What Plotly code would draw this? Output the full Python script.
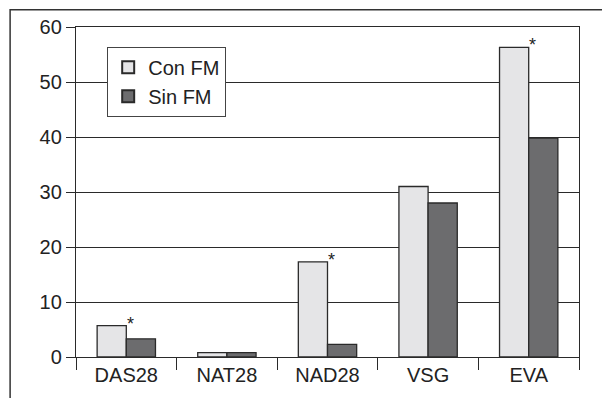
import plotly.graph_objects as go

categories = ["DAS28", "NAT28", "NAD28", "VSG", "EVA"]
con_fm = [5.7, 0.8, 17.3, 31.0, 56.3]
sin_fm = [3.3, 0.8, 2.3, 28.0, 39.8]
significant = [True, False, True, False, True]
y_ticks = [0, 10, 20, 30, 40, 50, 60]

LINE = "#2a2a2a"
FONT = dict(family="Liberation Sans, Arial, sans-serif", size=20, color="#222222")

fig = go.Figure()
fig.add_trace(go.Bar(name="Con FM", x=categories, y=con_fm,
                     marker=dict(color="#e5e5e7", line=dict(color=LINE, width=1.3))))
fig.add_trace(go.Bar(name="Sin FM", x=categories, y=sin_fm,
                     marker=dict(color="#6c6c6e", line=dict(color=LINE, width=1.3))))

for cat, v, s in zip(categories, con_fm, significant):
    if s:
        fig.add_annotation(x=cat, y=v, text="*", showarrow=False, xshift=4, yshift=-10,
                           yanchor="bottom", font=dict(family=FONT["family"], size=18, color="#222222"))

# outer frame (top and left edges visible; right/bottom fall outside the page)
fig.add_shape(type="rect", xref="paper", yref="paper", x0=-0.131, x1=1.2, y0=-0.3, y1=1.052,
              line=dict(color="#333333", width=1.5), fillcolor="rgba(0,0,0,0)", layer="above")

fig.update_layout(
    width=602, height=398,
    margin=dict(l=76, r=23, t=27, b=41),
    paper_bgcolor="white", plot_bgcolor="white",
    font=FONT,
    barmode="group", bargap=0.42, bargroupgap=0,
    showlegend=True,
    legend=dict(x=0.062, y=0.94, xanchor="left", yanchor="top",
                bgcolor="white", bordercolor="#444444", borderwidth=1,
                font=dict(size=20), tracegroupgap=0, itemsizing="constant"),
    xaxis=dict(showline=True, linecolor=LINE, linewidth=1.3, mirror=True,
               ticks="outside", tickson="boundaries", ticklen=12, tickcolor=LINE, tickwidth=1.3,
               showgrid=False),
    yaxis=dict(range=[0, 60], tickvals=y_ticks, showline=True, linecolor=LINE, linewidth=1.3, mirror=True,
               ticks="outside", ticklen=9, tickcolor=LINE, tickwidth=1.3,
               showgrid=True, gridcolor=LINE, gridwidth=1.2, zeroline=False),
)

fig.write_html("out.html", config={"displayModeBar": False},
               post_script="document.body.style.margin='0';")
